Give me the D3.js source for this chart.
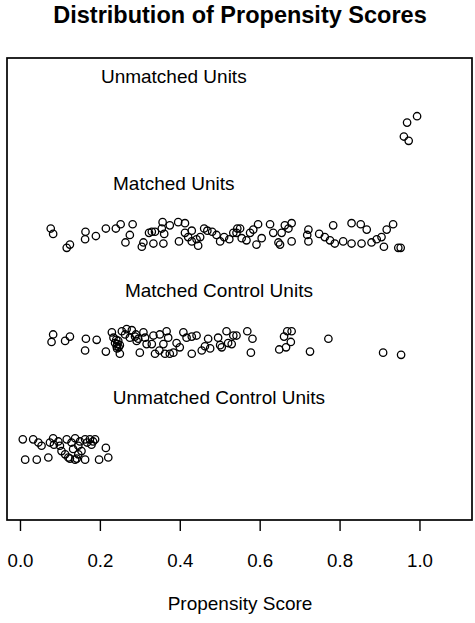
<!DOCTYPE html>
<html>
<head>
<meta charset="utf-8">
<script src="https://cdn.jsdelivr.net/npm/d3@7"></script>
<style>
  body { margin: 0; background: #fff; }
  text { font-family: "Liberation Sans", Arial, sans-serif; fill: #000; }
</style>
</head>
<body>
<div id="chart"></div>
<script>
// group names, top to bottom
const groups = ["Unmatched Units", "Matched Units", "Matched Control Units", "Unmatched Control Units"];
const xTicks = [0, 0.2, 0.4, 0.6, 0.8, 1.0];

// [propensity score, vertical jitter]
const unmatchedTreated = [[0.994, 0.11], [0.969, 0.05], [0.961, -0.08], [0.973, -0.12]];

const matchedTreated = [
  [0.077, 0.06], [0.083, 0.01], [0.117, -0.12], [0.125, -0.09], [0.164, 0.03], [0.163, -0.04],
  [0.190, -0.01], [0.215, 0.06], [0.240, 0.06], [0.252, 0.10], [0.282, 0.10], [0.275, 0.00],
  [0.264, -0.07], [0.309, -0.07], [0.305, -0.11], [0.323, 0.02], [0.330, 0.03], [0.338, 0.03],
  [0.334, -0.08], [0.357, 0.12], [0.355, 0.06], [0.361, 0.01], [0.359, -0.08], [0.375, 0.09],
  [0.396, 0.12], [0.413, 0.11], [0.398, -0.06], [0.413, 0.02], [0.421, -0.02], [0.430, 0.04],
  [0.430, -0.06], [0.442, -0.04], [0.446, -0.10], [0.451, -0.02], [0.461, 0.06], [0.469, 0.04],
  [0.481, 0.03], [0.492, 0.00], [0.501, -0.06], [0.511, -0.02], [0.524, -0.04], [0.534, 0.02],
  [0.544, 0.06], [0.542, 0.02], [0.551, 0.06], [0.555, -0.03], [0.567, -0.05], [0.576, 0.02],
  [0.584, 0.05], [0.596, 0.10], [0.592, -0.09], [0.605, -0.03], [0.626, 0.10], [0.634, 0.02],
  [0.647, -0.07], [0.651, -0.09], [0.655, 0.02], [0.663, 0.09], [0.672, 0.06], [0.680, 0.11],
  [0.680, -0.06], [0.722, 0.05], [0.719, 0.00], [0.722, -0.06], [0.749, 0.01], [0.763, -0.02],
  [0.776, -0.05], [0.784, 0.09], [0.788, -0.08], [0.809, -0.06], [0.830, -0.08], [0.830, 0.11],
  [0.853, 0.10], [0.855, -0.08], [0.868, 0.05], [0.880, -0.07], [0.893, -0.04], [0.905, -0.02],
  [0.911, -0.11], [0.918, 0.05], [0.934, 0.10], [0.947, -0.12], [0.953, -0.12]
];

const matchedControl = [
  [0.083, 0.07], [0.079, 0.00], [0.113, 0.01], [0.125, 0.05], [0.165, 0.03], [0.163, -0.08],
  [0.192, 0.02], [0.215, -0.09], [0.230, 0.09], [0.234, 0.04], [0.238, -0.01], [0.242, -0.04],
  [0.246, 0.01], [0.250, -0.03], [0.243, -0.06], [0.250, -0.11], [0.255, 0.10], [0.263, 0.07],
  [0.267, 0.12], [0.280, 0.11], [0.275, 0.04], [0.288, 0.05], [0.292, 0.01], [0.300, -0.10],
  [0.309, 0.09], [0.313, 0.04], [0.317, -0.02], [0.330, -0.02], [0.334, 0.06], [0.338, -0.11],
  [0.349, -0.08], [0.350, 0.07], [0.359, -0.02], [0.363, -0.11], [0.367, 0.10], [0.371, 0.04],
  [0.375, -0.11], [0.384, -0.10], [0.392, -0.01], [0.400, -0.05], [0.409, 0.09], [0.417, 0.04],
  [0.430, 0.05], [0.430, -0.11], [0.442, 0.06], [0.455, -0.08], [0.463, -0.04], [0.471, 0.03],
  [0.476, -0.06], [0.496, 0.04], [0.501, -0.03], [0.505, -0.05], [0.517, 0.10], [0.521, -0.01],
  [0.530, -0.02], [0.534, 0.06], [0.542, 0.06], [0.569, 0.10], [0.582, 0.03], [0.578, -0.10],
  [0.649, -0.07], [0.661, 0.05], [0.666, -0.05], [0.669, 0.10], [0.680, 0.10], [0.678, 0.00],
  [0.726, -0.09], [0.772, 0.03], [0.909, -0.10], [0.954, -0.12],
  [0.244, -0.02], [0.247, -0.05], [0.241, 0.02], [0.290, 0.07], [0.296, 0.03]
];

const unmatchedControl = [
  [0.007, 0.09], [0.013, -0.10], [0.033, 0.09], [0.042, -0.10], [0.046, 0.06], [0.054, 0.03],
  [0.071, -0.08], [0.075, 0.06], [0.083, 0.10], [0.085, 0.04], [0.096, 0.07], [0.100, 0.03],
  [0.104, -0.02], [0.113, -0.05], [0.117, 0.09], [0.121, -0.08], [0.129, 0.06], [0.133, 0.00],
  [0.138, 0.10], [0.138, -0.10], [0.146, 0.03], [0.146, -0.05], [0.150, 0.07], [0.154, -0.02],
  [0.163, -0.10], [0.163, 0.09], [0.168, 0.06], [0.175, 0.09], [0.179, 0.04], [0.183, 0.07],
  [0.188, 0.09], [0.198, -0.10], [0.215, 0.01], [0.221, -0.08], [0.125, -0.09], [0.142, -0.09]
];

const rows = [unmatchedTreated, matchedTreated, matchedControl, unmatchedControl];

const W = 475, H = 623;
const svg = d3.select("#chart").append("svg").attr("width", W).attr("height", H);

const x = d3.scaleLinear().domain([-0.0325, 1.1315]).range([7, 472]);
const y = d3.scaleLinear().domain([-0.664, 3.654]).range([520, 58]);
// row 3 at top, row 0 at bottom
const rowLevel = i => 3 - i;

svg.append("text")
  .attr("x", 240).attr("y", 23)
  .attr("text-anchor", "middle")
  .attr("font-weight", "bold")
  .attr("font-size", 23.5)
  .text("Distribution of Propensity Scores");

svg.append("rect")
  .attr("x", 7).attr("y", 58)
  .attr("width", 465).attr("height", 462)
  .attr("fill", "none").attr("stroke", "#000").attr("stroke-width", 1.7);

// group labels, treated ones sit a bit further left
const labelX = [0.385, 0.385, 0.498, 0.498];
svg.append("g").selectAll("text")
  .data(groups)
  .enter()
  .append("text")
  .attr("x", (d, i) => x(labelX[i]))
  .attr("y", (d, i) => y(rowLevel(i) + 0.42))
  .attr("text-anchor", "middle")
  .attr("font-size", 19)
  .text(d => d);

rows.forEach((pts, i) => {
  svg.append("g")
    .selectAll("circle")
    .data(pts)
    .enter()
    .append("circle")
    .attr("cx", d => x(d[0]))
    .attr("cy", d => y(rowLevel(i) + d[1]))
    .attr("r", 3.7)
    .attr("fill", "none")
    .attr("stroke", "#000")
    .attr("stroke-width", 1.3);
});

const axis = svg.append("g")
  .attr("transform", "translate(0,520)")
  .call(d3.axisBottom(x).tickValues(xTicks).tickFormat(d3.format(".1f")).tickSize(11).tickPadding(23));
axis.select(".domain").remove();
axis.selectAll("line").attr("stroke", "#000").attr("stroke-width", 1.4);
axis.selectAll("text")
  .attr("font-family", "Liberation Sans, Arial, sans-serif")
  .attr("font-size", 18.7)
  .attr("fill", "#000");

svg.append("text")
  .attr("x", 240).attr("y", 610)
  .attr("text-anchor", "middle")
  .attr("font-size", 19)
  .text("Propensity Score");
</script>
</body>
</html>
